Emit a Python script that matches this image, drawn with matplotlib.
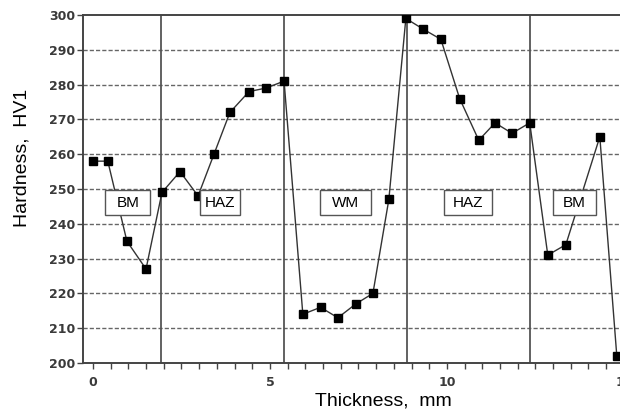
import matplotlib

matplotlib.use('Agg')
import matplotlib.pyplot as plt
from matplotlib.patches import Rectangle
from matplotlib.ticker import MultipleLocator

# hardness profile across the weld
thickness = [0.0, 0.42, 0.96, 1.5, 1.95, 2.46, 2.97, 3.42, 3.87, 4.41, 4.89, 5.4,
             5.93, 6.43, 6.92, 7.43, 7.91, 8.36, 8.84, 9.32, 9.83, 10.36, 10.9,
             11.36, 11.84, 12.34, 12.85, 13.36, 14.32, 14.8]
hardness = [258, 258, 235, 227, 249, 255, 248, 260, 272, 278, 279, 281,
            214, 216, 213, 217, 220, 247, 299, 296, 293, 276, 264,
            269, 266, 269, 231, 234, 265, 202]

zone_bounds = [1.92, 5.4, 8.87, 12.34]
zone_names = ['BM', 'HAZ', 'WM', 'HAZ', 'BM']
zone_label_x = [0.99, 3.59, 7.13, 10.6, 13.6]
zone_label_y = 246
box_w = [1.27, 1.13, 1.44, 1.36, 1.21]  # label box widths, mm
box_h = 7.2

plt.rcParams['font.family'] = ['Liberation Sans', 'DejaVu Sans']
fig = plt.figure(figsize=(6.2, 4.15), dpi=100)
ax = fig.add_axes([0.1339, 0.1253, 0.8895, 0.8386])

ax.set_xlim(-0.28, 15.3)
ax.set_ylim(200, 300)

# horizontal dashed grid
for yv in range(210, 300, 10):
    ax.axhline(yv, color='#666666', lw=1.0, ls=(0, (3, 1.5)), zorder=1)
# section boundaries
for xv in zone_bounds:
    ax.axvline(xv, color='#555555', lw=1.3, zorder=1)

ax.plot(thickness, hardness, color='#333333', lw=1.0, marker='s', markersize=6,
        markerfacecolor='black', markeredgecolor='black', zorder=3)

for name, lx, bw in zip(zone_names, zone_label_x, box_w):
    ax.add_patch(Rectangle((lx - bw / 2, zone_label_y - box_h / 2), bw, box_h,
                           fc='white', ec='#555555', lw=1.0, zorder=4))
    ax.text(lx, zone_label_y, name, ha='center', va='center', fontsize=11, zorder=5)

ax.xaxis.set_major_locator(MultipleLocator(5))
ax.xaxis.set_minor_locator(MultipleLocator(0.5))
ax.yaxis.set_major_locator(MultipleLocator(10))
ax.tick_params(axis='x', which='both', direction='out', length=4, width=1.0,
               color='#444444', pad=5)
ax.tick_params(axis='y', which='both', direction='out', length=4, width=1.0,
               color='#444444', pad=1.5)
for lab in ax.get_xticklabels() + ax.get_yticklabels():
    lab.set_family('DejaVu Sans')
    lab.set_fontweight('bold')
    lab.set_fontsize(9)
    lab.set_color('#3a3a3a')

for side in ['left', 'bottom', 'top']:
    ax.spines[side].set_color('#444444')
    ax.spines[side].set_linewidth(1.4)
ax.spines['right'].set_visible(False)

ax.set_xlabel('Thickness,  mm', fontsize=14)
ax.xaxis.set_label_coords((383 - 83) / 551.5, -0.086)
ax.set_ylabel('Hardness,  HV1', fontsize=14)
ax.yaxis.set_label_coords(-0.095, 0.59)

plt.savefig('out.png', dpi=100)
